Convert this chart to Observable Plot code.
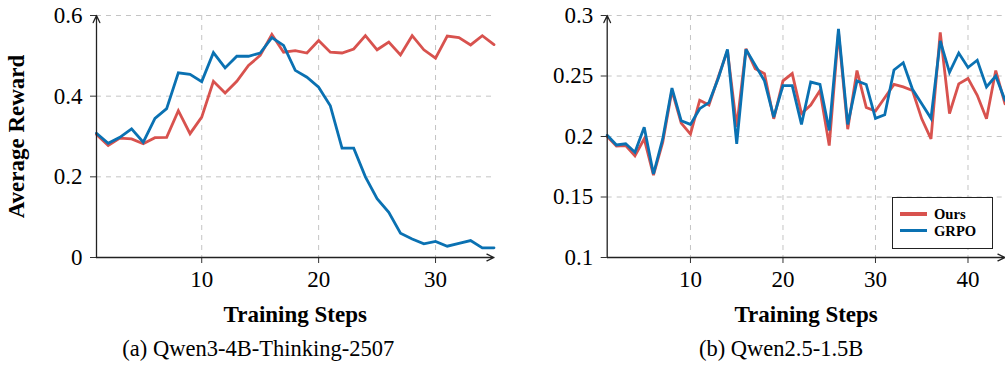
<!DOCTYPE html>
<html><head><meta charset="utf-8">
<script src="https://cdn.jsdelivr.net/npm/d3@7"></script>
<script src="https://cdn.jsdelivr.net/npm/@observablehq/plot@0.6"></script>
<style>
body{margin:0;background:#fff;width:1005px;height:379px;position:relative;overflow:hidden;font-family:"Liberation Serif",serif}
#a{position:absolute;left:0;top:0}
#b{position:absolute;left:500px;top:0}
#a svg, #b svg, #a svg text, #b svg text{font-family:"Liberation Serif",serif !important}
.legend{position:absolute;left:892px;top:197px;width:101px;height:52px;border:1px solid #222;background:#fff;box-sizing:border-box;font-weight:bold;font-size:14.6px}
.legend .row{position:absolute;left:7px;height:16px;line-height:16px;display:flex;align-items:center}
.legend .sw{width:27px;height:3.5px;margin-right:7px}
</style></head><body>
<div id="a"></div><div id="b"></div>
<div class="legend" id="leg"></div>
<script>
const seriesNames = ["Ours", "GRPO"];
const seriesColors = ["#d8524e", "#0a71b2"];

// (a) Qwen3-4B-Thinking-2507
const oursA = [0.305, 0.278, 0.296, 0.294, 0.282, 0.297, 0.298, 0.364, 0.307, 0.348, 0.437, 0.408, 0.437, 0.476, 0.501, 0.553, 0.509, 0.513, 0.507, 0.538, 0.509, 0.507, 0.517, 0.550, 0.515, 0.534, 0.502, 0.550, 0.515, 0.494, 0.549, 0.545, 0.527, 0.550, 0.528];
const grpoA = [0.308, 0.283, 0.298, 0.319, 0.286, 0.345, 0.369, 0.458, 0.454, 0.436, 0.508, 0.470, 0.499, 0.499, 0.507, 0.545, 0.526, 0.464, 0.447, 0.422, 0.376, 0.271, 0.271, 0.200, 0.146, 0.112, 0.060, 0.046, 0.034, 0.040, 0.028, 0.035, 0.042, 0.024, 0.024];
const xTicksA = [10, 20, 30];
const yTicksA = [0, 0.2, 0.4, 0.6];

// (b) Qwen2.5-1.5B
const oursB = [0.200, 0.192, 0.1925, 0.184, 0.198, 0.168, 0.195, 0.238, 0.211, 0.202, 0.230, 0.226, 0.249, 0.271, 0.208, 0.2725, 0.256, 0.252, 0.2146, 0.246, 0.252, 0.219, 0.226, 0.238, 0.1925, 0.286, 0.206, 0.2545, 0.224, 0.221, 0.232, 0.243, 0.241, 0.238, 0.2146, 0.198, 0.286, 0.219, 0.2435, 0.248, 0.234, 0.2146, 0.2545, 0.227];
const grpoB = [0.201, 0.193, 0.194, 0.187, 0.2076, 0.169, 0.198, 0.240, 0.213, 0.210, 0.223, 0.228, 0.248, 0.272, 0.194, 0.272, 0.259, 0.246, 0.216, 0.242, 0.242, 0.210, 0.245, 0.243, 0.205, 0.289, 0.210, 0.246, 0.243, 0.215, 0.218, 0.255, 0.261, 0.239, 0.227, 0.215, 0.279, 0.253, 0.269, 0.257, 0.263, 0.241, 0.250, 0.230];
const xTicksB = [10, 20, 30, 40];
const yTicksB = [0.1, 0.15, 0.2, 0.25, 0.3];

const xLabel = "Training Steps";
const yLabel = "Average Reward";
const captions = ["(a) Qwen3-4B-Thinking-2507", "(b) Qwen2.5-1.5B"];

const FONT = "Liberation Serif";

function table(ours, grpo) {
  const rows = [];
  ours.forEach((v, i) => rows.push({step: i + 1, value: v, series: seriesNames[0]}));
  grpo.forEach((v, i) => rows.push({step: i + 1, value: v, series: seriesNames[1]}));
  return rows;
}

function chart({ours, grpo, xTicks, yTicks, yDomain, width, marginLeft, marginRight, ylabel, caption, captionDx}) {
  const data = table(ours, grpo);
  const xDomain = [1, ours.length];
  const grid = {stroke: "#c4c4c4", strokeOpacity: 1, strokeWidth: 1, strokeDasharray: "5,5"};
  const marks = [
    Plot.gridX(xTicks, grid),
    Plot.gridY(yTicks.filter(t => t !== yDomain[0]), grid),
    Plot.line(data, {x: "step", y: "value", z: "series", stroke: "series", strokeWidth: 2.8, strokeLinejoin: "miter", strokeMiterlimit: 3}),
    Plot.axisX(xTicks, {tickSize: 6, tickPadding: 7, label: null, fontSize: 23, fontFamily: FONT, stroke: "#333"}),
    Plot.axisY(yTicks, {tickSize: 6, tickPadding: 8, label: null, fontSize: 23, fontFamily: FONT, tickFormat: d => String(d), stroke: "#333"}),
    Plot.arrow([{x1: xDomain[0], y1: yDomain[0], x2: xDomain[1], y2: yDomain[0]}], {x1: "x1", y1: "y1", x2: "x2", y2: "y2", stroke: "#222", strokeWidth: 1.3, headLength: 9, headAngle: 50}),
    Plot.arrow([{x1: xDomain[0], y1: yDomain[0], x2: xDomain[0], y2: yDomain[1]}], {x1: "x1", y1: "y1", x2: "x2", y2: "y2", stroke: "#222", strokeWidth: 1.3, headLength: 9, headAngle: 50}),
    Plot.text([xLabel], {text: d => d, frameAnchor: "bottom", dy: 64, fontWeight: "bold", fontSize: 23, fontFamily: FONT}),
    Plot.text([caption], {text: d => d, frameAnchor: "bottom", dy: 98, dx: captionDx, fontSize: 22.5, fontFamily: FONT})
  ];
  if (ylabel) marks.push(Plot.text([ylabel], {text: d => d, frameAnchor: "left", textAnchor: "middle", dx: -80, rotate: -90, fontWeight: "bold", fontSize: 23, fontFamily: FONT}));
  return Plot.plot({
    width, height: 379,
    marginLeft, marginRight, marginTop: 15, marginBottom: 122,
    style: {fontFamily: "'Liberation Serif', serif", fontSize: "23px", color: "#000", background: "transparent", overflow: "visible"},
    x: {domain: xDomain},
    y: {domain: yDomain},
    color: {domain: seriesNames, range: seriesColors},
    marks
  });
}

document.getElementById("a").append(chart({
  ours: oursA, grpo: grpoA, xTicks: xTicksA, yTicks: yTicksA, yDomain: [0, 0.6],
  width: 500, marginLeft: 96, marginRight: 6.5, ylabel: yLabel, caption: captions[0], captionDx: -37
}));
document.getElementById("b").append(chart({
  ours: oursB, grpo: grpoB, xTicks: xTicksB, yTicks: yTicksB, yDomain: [0.1, 0.3],
  width: 505, marginLeft: 106.7, marginRight: 0.5, ylabel: null, caption: captions[1], captionDx: -25
}));

const leg = document.getElementById("leg");
seriesNames.forEach((name, i) => {
  const row = document.createElement("div");
  row.className = "row";
  row.style.top = (8 + i * 16.7) + "px";
  const sw = document.createElement("span");
  sw.className = "sw";
  sw.style.background = seriesColors[i];
  const t = document.createElement("span");
  t.textContent = name;
  row.append(sw, t);
  leg.append(row);
});
</script>
</body></html>
